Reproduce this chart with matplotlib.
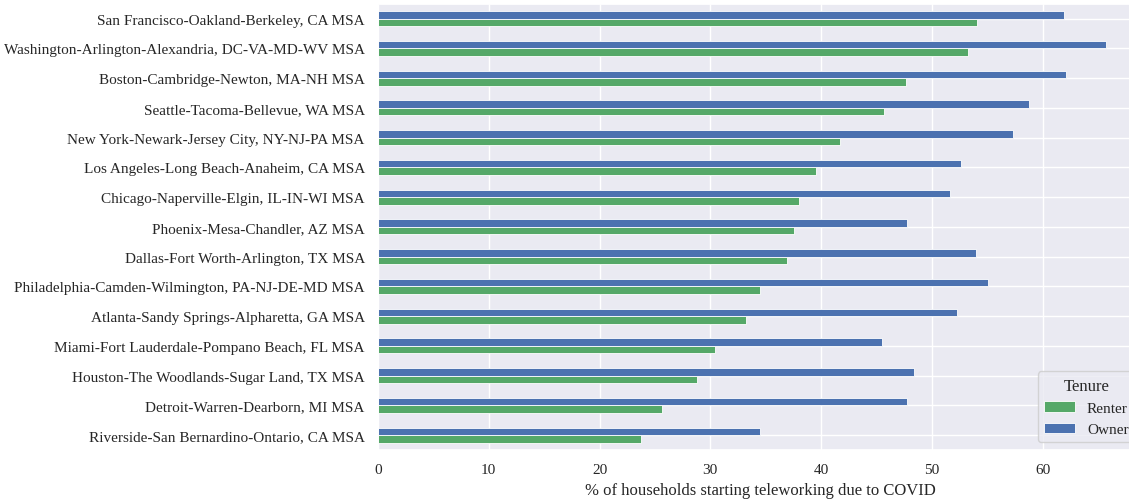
import pandas as pd
import matplotlib
matplotlib.use('Agg')
import matplotlib.pyplot as plt
import seaborn as sns

# metros, bottom to top as drawn
metros = [
    'Riverside-San Bernardino-Ontario, CA MSA',
    'Detroit-Warren-Dearborn, MI MSA',
    'Houston-The Woodlands-Sugar Land, TX MSA',
    'Miami-Fort Lauderdale-Pompano Beach, FL MSA',
    'Atlanta-Sandy Springs-Alpharetta, GA MSA',
    'Philadelphia-Camden-Wilmington, PA-NJ-DE-MD MSA',
    'Dallas-Fort Worth-Arlington, TX MSA',
    'Phoenix-Mesa-Chandler, AZ MSA',
    'Chicago-Naperville-Elgin, IL-IN-WI MSA',
    'Los Angeles-Long Beach-Anaheim, CA MSA',
    'New York-Newark-Jersey City, NY-NJ-PA MSA',
    'Seattle-Tacoma-Bellevue, WA MSA',
    'Boston-Cambridge-Newton, MA-NH MSA',
    'Washington-Arlington-Alexandria, DC-VA-MD-WV MSA',
    'San Francisco-Oakland-Berkeley, CA MSA',
]
renter = [23.7, 25.6, 28.8, 30.4, 33.2, 34.5, 36.9, 37.6, 38.0, 39.5, 41.7, 45.7, 47.7, 53.3, 54.1]
owner = [34.5, 47.8, 48.4, 45.5, 52.3, 55.1, 54.0, 47.8, 51.6, 52.6, 57.3, 58.8, 62.1, 65.7, 61.9]

sns.set_theme(style='darkgrid')
plt.rcParams['font.family'] = ['Liberation Serif', 'DejaVu Serif']

df = pd.DataFrame({'Renter': renter, 'Owner': owner}, index=metros)

fig = plt.figure(figsize=(11.29, 5.02), dpi=100)
ax = fig.add_axes([0.3348, 0.1016, 0.677, 0.889])
df.plot.barh(ax=ax, color=['#55a868', '#4c72b0'], edgecolor='white', linewidth=0.6)

ax.set_xlim(0, 69)
ax.tick_params(axis='both', labelsize=11)
ax.set_xlabel('% of households starting teleworking due to COVID', fontsize=12)
ax.legend(title='Tenure', loc='lower right', fontsize=11, title_fontsize=12)

plt.savefig('out.png', dpi=100)
